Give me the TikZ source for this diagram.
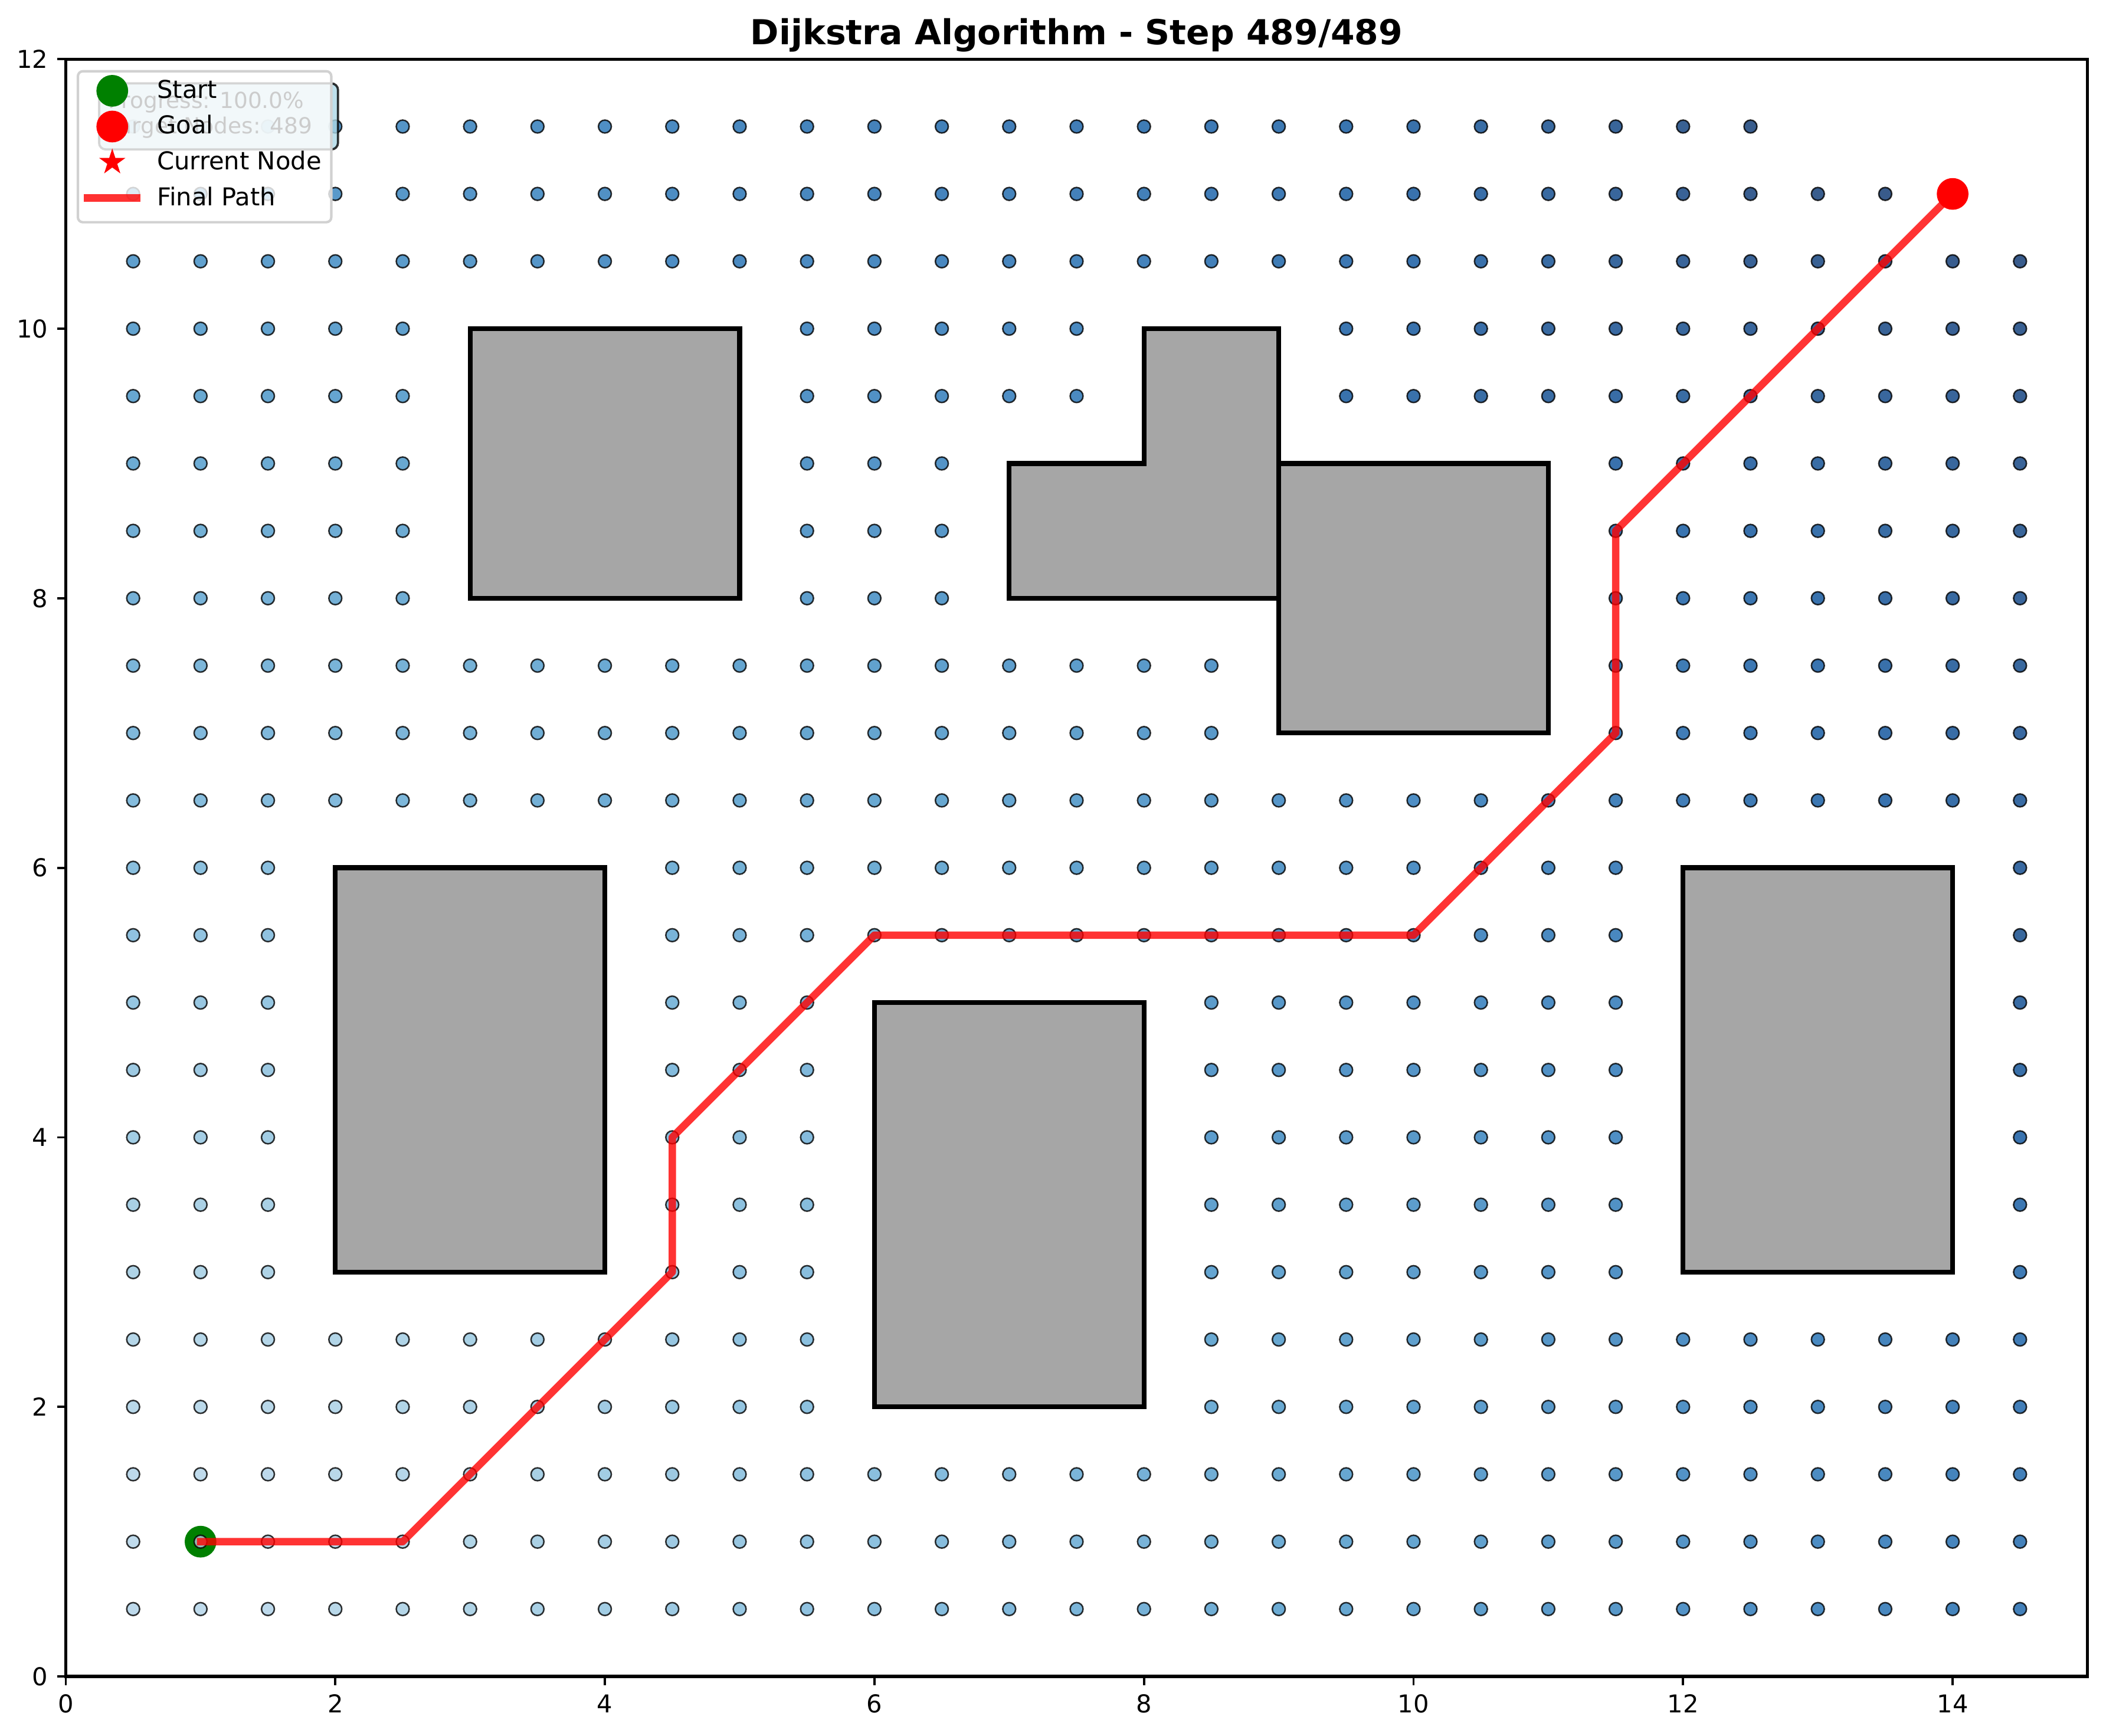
\documentclass[tikz,border=0pt]{standalone}
\usepackage{fontspec}
\setmainfont{DejaVu Sans}
\usetikzlibrary{shapes.geometric}

\definecolor{bl0}{HTML}{F7FBFF}
\definecolor{bl1}{HTML}{DEEBF7}
\definecolor{bl2}{HTML}{C6DBEF}
\definecolor{bl3}{HTML}{9ECAE1}
\definecolor{bl4}{HTML}{6BAED6}
\definecolor{bl5}{HTML}{4292C6}
\definecolor{bl6}{HTML}{2171B5}
\definecolor{bl7}{HTML}{08519C}
\definecolor{bl8}{HTML}{08306B}
\definecolor{bl9}{HTML}{08306B}
\definecolor{obstaclegray}{HTML}{A6A6A6}
\definecolor{boxblue}{HTML}{ADD8E6}
\definecolor{startgreen}{HTML}{008000}

% distances on the half-unit grid, 8 neighbours
\newcount\best
\newcount\cand
\def\infdist{9999999}
\foreach \ci in {0,...,30}{\foreach \cj in {0,...,24}{%
  \expandafter\xdef\csname d@\ci @\cj\endcsname{\infdist}}}
\def\blockcells#1#2#3#4{%
  \foreach \ci in {#1,...,#2}{\foreach \cj in {#3,...,#4}{%
    \expandafter\gdef\csname b@\ci @\cj\endcsname{1}}}}
\blockcells{6}{10}{16}{20}
\blockcells{14}{18}{16}{18}
\blockcells{16}{18}{18}{20}
\blockcells{18}{22}{14}{18}
\blockcells{4}{8}{6}{12}
\blockcells{12}{16}{4}{10}
\blockcells{24}{28}{6}{12}
\expandafter\gdef\csname d@2@2\endcsname{0}
\def\trynb#1#2#3{%
  \cand=\numexpr\csname d@\the\numexpr\ci+#1\relax @\the\numexpr\cj+#2\relax\endcsname+#3\relax
  \ifnum\cand<\best \best=\cand\fi}
\def\relaxcell{%
  \expandafter\ifx\csname b@\ci @\cj\endcsname\relax
    \best=\csname d@\ci @\cj\endcsname\relax
    \trynb{-1}{0}{10000}\trynb{1}{0}{10000}\trynb{0}{-1}{10000}\trynb{0}{1}{10000}%
    \trynb{-1}{-1}{14142}\trynb{1}{-1}{14142}\trynb{-1}{1}{14142}\trynb{1}{1}{14142}%
    \expandafter\xdef\csname d@\ci @\cj\endcsname{\the\best}%
  \fi}
\foreach \np in {1,...,5}{%
  \foreach \ci in {1,...,29}{\foreach \cj in {1,...,23}{\relaxcell}}%
  \foreach \ci in {29,28,...,1}{\foreach \cj in {23,22,...,1}{\relaxcell}}%
  \foreach \ci in {1,...,29}{\foreach \cj in {23,22,...,1}{\relaxcell}}%
  \foreach \ci in {29,28,...,1}{\foreach \cj in {1,...,23}{\relaxcell}}}
\edef\dgoal{\csname d@28@22\endcsname}

% Blues colour for a distance
\def\dotcolour#1{%
  \edef\tval{\the\numexpr300+700*#1/\dgoal\relax}%
  \edef\segk{\the\numexpr(\tval-62)/125\relax}%
  \edef\segp{\the\numexpr(\tval-125*\segk)*4/5\relax}%
  \edef\segn{\the\numexpr\segk+1\relax}%
  \colorlet{dotc}{bl\segn!\segp!bl\segk}}

\begin{document}
\begin{tikzpicture}[
    x=54.82pt, y=54.82pt,
    every node/.style={font=\fontsize{10}{12}\selectfont, inner sep=0pt},
    obstacle/.style={fill=obstaclegray, draw=black, line width=2pt},
    visited/.style={fill=dotc, draw=black, fill opacity=0.8, draw opacity=0.8, line width=0.6pt},
    finalpath/.style={draw=red, opacity=0.8, line width=3pt, line cap=rect, line join=round},
    spine/.style={line width=1.3pt},
    tick/.style={line width=0.9pt},
    marker/.style={circle, minimum size=12.9pt, inner sep=0pt},
    currentstar/.style={star, star points=5, star point ratio=2.618, minimum size=11.2pt,
        inner sep=0pt, fill=red}
]
\useasboundingbox (-0.488,-0.438) rectangle (15.138,12.439);

\draw[obstacle] (3,8) rectangle (5,10);
\draw[obstacle] (7,8) -- (9,8) -- (9,10) -- (8,10) -- (8,9) -- (7,9) -- cycle;
\draw[obstacle] (9,7) rectangle (11,9);
\draw[obstacle] (2,3) rectangle (4,6);
\draw[obstacle] (6,2) rectangle (8,5);
\draw[obstacle] (12,3) rectangle (14,6);

\node[marker, fill=startgreen] (start) at (1,1) {};

\foreach \ci in {1,...,29}{\foreach \cj in {1,...,23}{%
  \edef\dval{\csname d@\ci @\cj\endcsname}%
  \ifnum\dval>\dgoal\relax\else
    \dotcolour{\dval}%
    \filldraw[visited] (\ci/2,\cj/2) circle[radius=0.048];
  \fi}}

\coordinate (goalpt) at (14,11);
\draw[finalpath] (start.center) -- (2.5,1) -- (4.5,3) -- (4.5,4) -- (6,5.5)
    -- (10,5.5) -- (11.5,7) -- (11.5,8.5) -- (goalpt);
\node[currentstar] (current) at (goalpt) {};
\node[marker, fill=red] (goal) at (goalpt) {};

\draw[spine] (0,0) rectangle (15,12);
\foreach \x in {0,2,...,14} {
  \draw[tick] (\x,0) -- (\x,-0.064);
  \node[anchor=base] (xt\x) at (\x,-0.267) {\x};
}
\foreach \y in {0,2,...,12} {
  \draw[tick] (0,\y) -- (-0.064,\y);
  \node[anchor=east] (yt\y) at (-0.128,\y) {\y};
}
\node[font=\fontsize{14}{17}\selectfont\bfseries, anchor=base] (title) at (7.5,12.11)
    {Dijkstra Algorithm - Step 489/489};

\draw[fill=boxblue, fill opacity=0.8, draw=black, draw opacity=0.8, line width=0.9pt,
    rounded corners=2.7pt] (0.247,11.33) rectangle (2.02,11.82);
\node[font=\fontsize{9}{11}\selectfont, anchor=base west] (progress) at (0.313,11.637)
    {Progress: 100.0\%};
\node[font=\fontsize{9}{11}\selectfont, anchor=base west] (targets) at (0.313,11.445)
    {Target Nodes: 489};

\draw[fill=white, fill opacity=0.8, draw=black!18, line width=1pt, rounded corners=2pt]
    (0.09,10.79) rectangle (1.97,11.91);
\node[marker, fill=startgreen] (keystart) at (0.345,11.765) {};
\node[anchor=base west] (keystarttext) at (0.674,11.71) {Start};
\node[marker, fill=red] (keygoal) at (0.345,11.50) {};
\node[anchor=base west] (keygoaltext) at (0.674,11.445) {Goal};
\node[currentstar] (keycurrent) at (0.345,11.235) {};
\node[anchor=base west] (keycurrenttext) at (0.674,11.18) {Current Node};
\coordinate (keypathl) at (0.163,10.97);
\coordinate (keypathr) at (0.528,10.97);
\draw[finalpath] (keypathl) -- (keypathr);
\node[anchor=base west] (keypathtext) at (0.674,10.915) {Final Path};
\end{tikzpicture}
\end{document}
